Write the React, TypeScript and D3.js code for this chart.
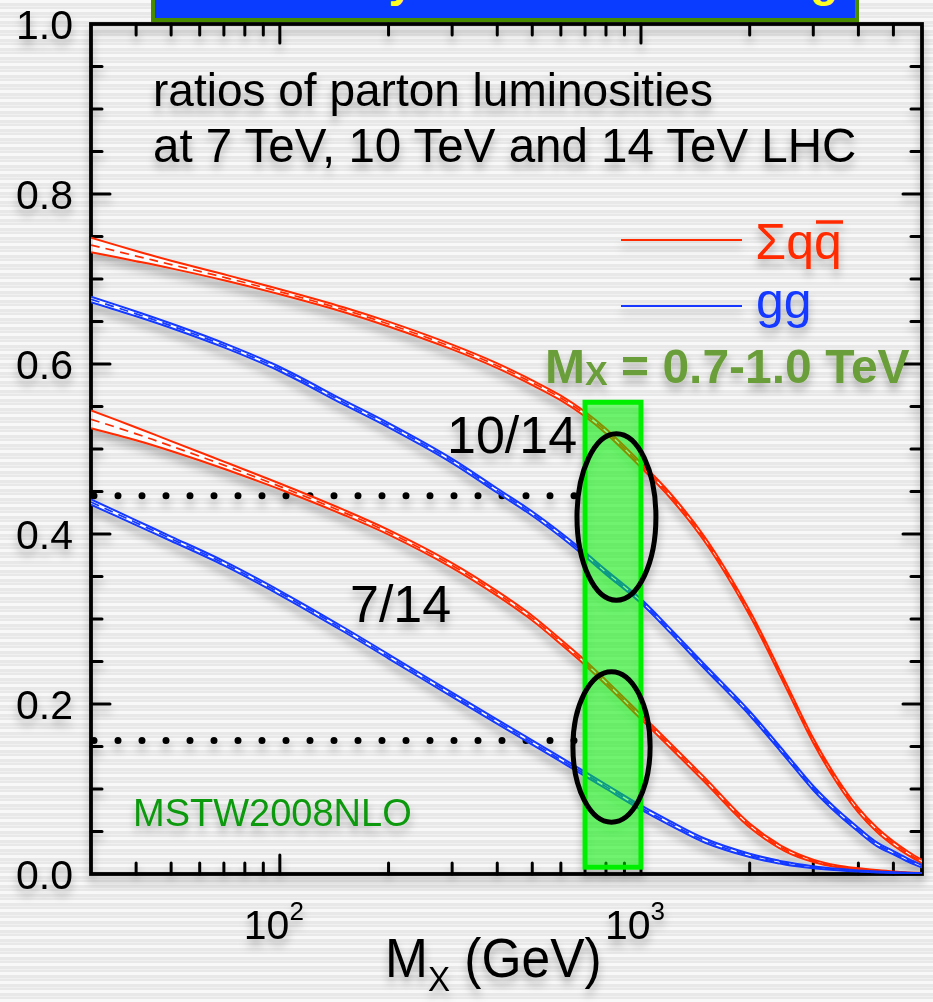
import React from 'react';
import * as d3 from 'd3';

// ---------------- data ----------------
const MASSES = [30, 40, 50, 70, 100, 150, 200, 300, 400, 500, 600, 700, 800, 1000, 1200, 1500, 2000, 2500, 3000, 3500, 4000, 4500, 5000, 5500, 6000];

const QQ_10_14 = [0.740, 0.727, 0.717, 0.702, 0.685, 0.664, 0.647, 0.620, 0.598, 0.578, 0.560, 0.541, 0.521, 0.481, 0.446, 0.394, 0.307, 0.225, 0.157, 0.109, 0.075, 0.052, 0.036, 0.024, 0.0145];
const QQ_10_14_ERR = [0.0085, 0.006, 0.0045, 0.0035, 0.003, 0.0028, 0.0028, 0.0028, 0.0028, 0.0028, 0.0028, 0.0028, 0.0028, 0.0028, 0.0028, 0.0028, 0.0028, 0.0028, 0.0028, 0.0028, 0.0028, 0.0026, 0.0024, 0.0022, 0.002];

const GG_10_14 = [0.676, 0.659, 0.645, 0.622, 0.594, 0.555, 0.528, 0.486, 0.451, 0.424, 0.399, 0.376, 0.355, 0.321, 0.287, 0.244, 0.189, 0.141, 0.101, 0.073, 0.052, 0.035, 0.025, 0.016, 0.009];
const GG_10_14_ERR = [0.0032, 0.0028, 0.0026, 0.0025, 0.0025, 0.0025, 0.0025, 0.0025, 0.0025, 0.0025, 0.0025, 0.0025, 0.0025, 0.0025, 0.0025, 0.0025, 0.0025, 0.0025, 0.0025, 0.0025, 0.0024, 0.0022, 0.002, 0.0018, 0.0015];

const QQ_7_14 = [0.535, 0.5178, 0.5035, 0.481, 0.456, 0.4256, 0.402, 0.363, 0.330, 0.301, 0.273, 0.2485, 0.2253, 0.185, 0.152, 0.111, 0.057, 0.029, 0.0155, 0.009, 0.006, 0.004, 0.0025, 0.0015, 0.001];
const QQ_7_14_ERR = [0.0105, 0.0075, 0.0058, 0.0042, 0.0034, 0.003, 0.0028, 0.0028, 0.0028, 0.0028, 0.0028, 0.0028, 0.0028, 0.0028, 0.0028, 0.0027, 0.0024, 0.002, 0.0014, 0.001, 0.0008, 0.0006, 0.0004, 0.0003, 0.0002];

const GG_7_14 = [0.4376, 0.4133, 0.3944, 0.3656, 0.3307, 0.2878, 0.256, 0.2108, 0.1791, 0.1547, 0.1346, 0.1176, 0.1028, 0.0781, 0.060, 0.0394, 0.0219, 0.0128, 0.008, 0.0052, 0.0035, 0.0024, 0.0016, 0.0011, 0.0007];
const GG_7_14_ERR = [0.0032, 0.0028, 0.0026, 0.0025, 0.0025, 0.0025, 0.0025, 0.0025, 0.0025, 0.0025, 0.0025, 0.0025, 0.0025, 0.0025, 0.0025, 0.0024, 0.002, 0.0016, 0.0012, 0.0009, 0.0007, 0.0005, 0.0004, 0.0003, 0.0002];

const Y_TICK_LABELS = ['0.0', '0.2', '0.4', '0.6', '0.8', '1.0'];
const X_MAJOR_TICKS = [100, 1000];
const X_MAJOR_EXPONENTS = ['2', '3'];

const DOTTED_LEVELS = [0.445, 0.157];
const DOTTED_RANGE = [30, 660];

const WINDOW_MASS = [700, 1000];
const WINDOW_VALUE = [0.008, 0.555];

const ELLIPSES = [
  { mLo: 665, mHi: 1100, vLo: 0.322, vHi: 0.518 },
  { mLo: 648, mHi: 1060, vLo: 0.061, vHi: 0.238 },
];

const RED = '#ff2a00';
const BLUE = '#1238ff';
const FONT = 'Liberation Sans, Arial, Helvetica, sans-serif';

const SERIES = [
  { key: 'qq1014', values: QQ_10_14, err: QQ_10_14_ERR, color: RED },
  { key: 'gg1014', values: GG_10_14, err: GG_10_14_ERR, color: BLUE },
  { key: 'qq714', values: QQ_7_14, err: QQ_7_14_ERR, color: RED },
  { key: 'gg714', values: GG_7_14, err: GG_7_14_ERR, color: BLUE },
];

const W = 933;
const H = 1002;
const X0 = 91;
const X1 = 922;
const Y0 = 874;
const Y1 = 24;

export default function App() {
  const x = d3.scaleLog().domain([30, 6000]).range([X0, X1]);
  const y = d3.scaleLinear().domain([0, 1]).range([Y0, Y1]);

  const line = d3
    .line<number>()
    .x((_, i) => x(MASSES[i]))
    .y((v) => y(v))
    .curve(d3.curveCatmullRom.alpha(0.5));

  const xTicks = x.ticks();
  const yTicks = d3.range(0, 21).map((i) => i * 0.05);

  const tickStroke = { stroke: '#000', strokeWidth: 3, strokeLinecap: 'round' as const };

  return (
    <svg
      width={W}
      height={H}
      style={{ position: 'absolute', left: 0, top: 0, display: 'block' }}
      fontFamily={FONT}
    >
      <defs>
        <pattern id="stripes" width="10" height="9" patternUnits="userSpaceOnUse">
          <rect width="10" height="9" fill="#e8e8e8" />
          <rect width="10" height="3" y="0" fill="#f8f8f8" />
          <rect width="10" height="1" y="6" fill="#f0f0f0" />
        </pattern>
        <filter id="shadow" x="-10%" y="-10%" width="120%" height="130%">
          <feDropShadow dx="0" dy="7" stdDeviation="4.5" floodColor="#000" floodOpacity="0.28" />
        </filter>
        <clipPath id="plotClip">
          <rect x={X0} y={Y1} width={X1 - X0} height={Y0 - Y1} />
        </clipPath>
      </defs>

      <rect width={W} height={H} fill="url(#stripes)" />

      {/* title box (cut off at top of the slide) */}
      <rect x={153} y={-12} width={704} height={32} fill="#0a3cff" stroke="#4a8c00" strokeWidth={4} />
      <text x={414} y={-4} textAnchor="end" fontSize={46} fontWeight="bold" fill="#ffff22">
        Parton luminosity
      </text>
      <text x={838} y={-4} textAnchor="end" fontSize={46} fontWeight="bold" fill="#ffff22">
        ratio scaling
      </text>

      <g filter="url(#shadow)">
        {/* frame */}
        <rect x={X0} y={Y1} width={X1 - X0} height={Y0 - Y1} fill="none" stroke="#000" strokeWidth={3.8} />

        {/* y ticks */}
        {yTicks.map((t, i) => {
          const major = i % 4 === 0;
          const len = major ? 19 : 11;
          const yy = y(t);
          if (i === 0 || i === 20) return null;
          return (
            <g key={'yt' + i}>
              <line x1={X0} x2={X0 + len} y1={yy} y2={yy} {...tickStroke} />
              <line x1={X1} x2={X1 - len} y1={yy} y2={yy} {...tickStroke} />
            </g>
          );
        })}

        {/* x ticks */}
        {xTicks.map((t, i) => {
          const major = X_MAJOR_TICKS.includes(t);
          const len = major ? 19 : 11;
          const xx = x(t);
          if (xx <= X0 + 1 || xx >= X1 - 1) return null;
          return (
            <g key={'xt' + i}>
              <line x1={xx} x2={xx} y1={Y0} y2={Y0 - len} {...tickStroke} />
              <line x1={xx} x2={xx} y1={Y1} y2={Y1 + len} {...tickStroke} />
            </g>
          );
        })}

        {/* y tick labels */}
        {Y_TICK_LABELS.map((lab, i) => (
          <text key={'yl' + i} x={73} y={y(i * 0.2)} dy="0.36em" textAnchor="end" fontSize={41} fill="#000">
            {lab}
          </text>
        ))}

        {/* x tick labels */}
        {X_MAJOR_TICKS.map((t, i) => (
          <text key={'xl' + i} x={x(t) - 6} y={939} textAnchor="middle" fontSize={41} fill="#000">
            10
            <tspan fontSize={26} dy={-19}>
              {X_MAJOR_EXPONENTS[i]}
            </tspan>
          </text>
        ))}

        {/* x axis title */}
        <g transform="translate(385,977) scale(0.92,1)">
          <text x={0} y={0} fontSize={56} fill="#000">
            M
            <tspan fontSize={36} dy={14}>
              X
            </tspan>
            <tspan dy={-14}> (GeV)</tspan>
          </text>
        </g>

        {/* dotted reference lines */}
        {DOTTED_LEVELS.map((v, i) => (
          <line
            key={'dot' + i}
            x1={x(DOTTED_RANGE[0]) + 3}
            x2={x(DOTTED_RANGE[1])}
            y1={y(v)}
            y2={y(v)}
            stroke="#000"
            strokeWidth={7}
            strokeLinecap="round"
            strokeDasharray="0 24"
          />
        ))}

        {/* curves */}
        <g clipPath="url(#plotClip)">
          {SERIES.map((s) => {
            const upper = s.values.map((v, i) => v + s.err[i]);
            const lower = s.values.map((v, i) => Math.max(0, v - s.err[i]));
            const area = d3
              .area<number>()
              .x((_, i) => x(MASSES[i]))
              .y0((_, i) => y(lower[i]))
              .y1((_, i) => y(upper[i]))
              .curve(d3.curveCatmullRom.alpha(0.5));
            return (
              <g key={s.key}>
                <path d={area(s.values) || ''} fill="#ffffff" fillOpacity={0.85} />
                <path d={line(upper) || ''} fill="none" stroke={s.color} strokeWidth={2} />
                <path d={line(lower) || ''} fill="none" stroke={s.color} strokeWidth={2} />
                <path
                  d={line(s.values) || ''}
                  fill="none"
                  stroke={s.color}
                  strokeWidth={1.7}
                  strokeDasharray="9 6"
                />
              </g>
            );
          })}
        </g>

        {/* mass window */}
        <rect
          x={x(WINDOW_MASS[0])}
          y={y(WINDOW_VALUE[1])}
          width={x(WINDOW_MASS[1]) - x(WINDOW_MASS[0])}
          height={y(WINDOW_VALUE[0]) - y(WINDOW_VALUE[1])}
          fill="#00ff00"
          fillOpacity={0.48}
          stroke="#00ee00"
          strokeWidth={5}
        />

        {/* ellipses */}
        {ELLIPSES.map((e, i) => {
          const xa = x(e.mLo);
          const xb = x(e.mHi);
          const ya = y(e.vHi);
          const yb = y(e.vLo);
          return (
            <ellipse
              key={'el' + i}
              cx={(xa + xb) / 2}
              cy={(ya + yb) / 2}
              rx={(xb - xa) / 2}
              ry={(yb - ya) / 2}
              fill="none"
              stroke="#000"
              strokeWidth={5}
            />
          );
        })}

        {/* annotations */}
        <text x={153} y={106} fontSize={46} fill="#000">
          ratios of parton luminosities
        </text>
        <text x={153} y={162} fontSize={47.5} fill="#000">
          at 7 TeV, 10 TeV and 14 TeV LHC
        </text>

        {/* legend */}
        <line x1={621} x2={742} y1={240} y2={240} stroke={RED} strokeWidth={2.2} />
        <text x={814} y={259} textAnchor="end" fontSize={50} fill={RED}>
          Σq
        </text>
        <text x={814} y={259} fontSize={50} fill={RED}>
          q
        </text>
        <line x1={816} x2={843} y1={222} y2={222} stroke={RED} strokeWidth={3.5} />
        <line x1={621} x2={742} y1={306} y2={306} stroke={BLUE} strokeWidth={2.2} />
        <text x={756} y={318} fontSize={50} fill={BLUE}>
          gg
        </text>

        <text x={545} y={383} fontSize={48} fontWeight="bold" fill="#6b9e3a">
          M
          <tspan fontSize={34} dy={2}>
            X
          </tspan>
          <tspan dy={-2}> = 0.7-1.0 TeV</tspan>
        </text>

        <text x={447} y={453} fontSize={52} fill="#000">
          10/14
        </text>
        <text x={350} y={622} fontSize={52} fill="#000">
          7/14
        </text>

        <text x={133} y={826} fontSize={38} fill="#119911">
          MSTW2008NLO
        </text>
      </g>
    </svg>
  );
}
